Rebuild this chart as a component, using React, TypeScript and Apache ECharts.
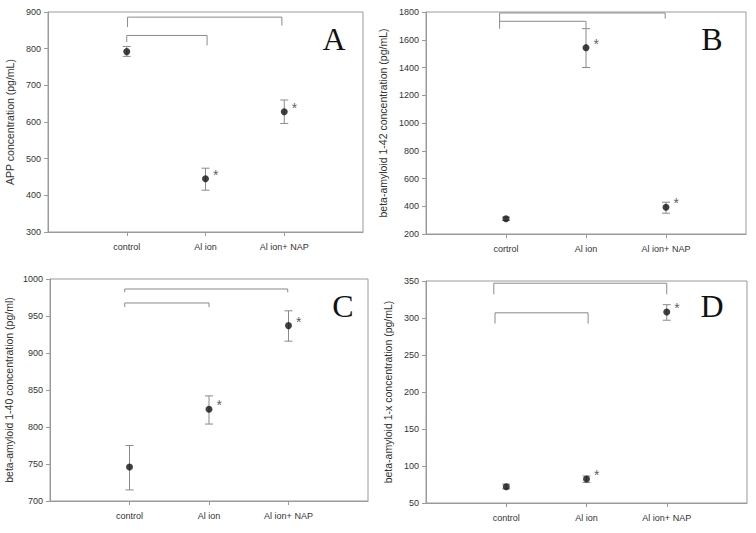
import React, { useEffect, useRef } from "react";
import * as echarts from "echarts";

const categories = ["control", "Al ion", "Al ion+ NAP"];
const categoriesB = ["cortrol", "Al ion", "Al ion+ NAP"];
const xPositions = [1, 2, 3];
const significant = [false, true, true];

// Panel A: APP
const appMean = [792, 445, 628];
const appLow = [779, 414, 596];
const appHigh = [806, 474, 660];
const appBracketOuter = [[1.01, 859], [1.01, 886], [2.97, 886], [2.97, 863]];
const appBracketInner = [[1.0, 818], [1.0, 836], [2.02, 836], [2.02, 809]];

// Panel B: beta-amyloid 1-42
const ab42Mean = [310, 1543, 393];
const ab42Low = [298, 1400, 350];
const ab42High = [322, 1680, 429];
const ab42BracketOuter = [[0.92, 1680], [0.92, 1793], [2.99, 1793], [2.99, 1752]];
const ab42BracketInner = [[0.92, 1733], [2.0, 1733], [2.0, 1685]];

// Panel C: beta-amyloid 1-40
const ab40Mean = [746, 824, 937];
const ab40Low = [715, 804, 916];
const ab40High = [775, 842, 957];
const ab40BracketOuter = [[0.94, 982], [0.94, 986.5], [2.99, 986.5], [2.99, 982]];
const ab40BracketInner = [[0.94, 962], [0.94, 967.6], [2.0, 967.6], [2.0, 962]];

// Panel D: beta-amyloid 1-x
const ab1xMean = [72, 82.4, 308];
const ab1xLow = [69, 77.8, 297];
const ab1xHigh = [75.5, 86.5, 318];
const ab1xBracketOuter = [[0.845, 332], [0.845, 347], [3.0, 347], [3.0, 332]];
const ab1xBracketInner = [[0.86, 292.5], [0.86, 307], [2.02, 307], [2.02, 292.5]];

const panels = [
  {
    letter: "A", cats: categories, mean: appMean, low: appLow, high: appHigh,
    brackets: [appBracketOuter, appBracketInner],
    name: "APP concentration (pg/mL)", min: 300, max: 900, interval: 100,
    grid: { left: 48, top: 12, width: 315, height: 220 }, nameGap: 33,
    letterPos: [334, 39],
  },
  {
    letter: "B", cats: categoriesB, mean: ab42Mean, low: ab42Low, high: ab42High,
    brackets: [ab42BracketOuter, ab42BracketInner],
    name: "beta-amyloid 1-42 concentration (pg/mL)", min: 200, max: 1800, interval: 200,
    grid: { left: 426, top: 12, width: 320, height: 222 }, nameGap: 38,
    letterPos: [712, 39],
  },
  {
    letter: "C", cats: categories, mean: ab40Mean, low: ab40Low, high: ab40High,
    brackets: [ab40BracketOuter, ab40BracketInner],
    name: "beta-amyloid 1-40 concentration (pg/ml)", min: 700, max: 1000, interval: 50,
    grid: { left: 50, top: 279, width: 318, height: 222 }, nameGap: 36,
    letterPos: [343, 306],
  },
  {
    letter: "D", cats: categories, mean: ab1xMean, low: ab1xLow, high: ab1xHigh,
    brackets: [ab1xBracketOuter, ab1xBracketInner],
    name: "beta-amyloid 1-x concentration (pg/mL)", min: 50, max: 350, interval: 50,
    grid: { left: 426, top: 281, width: 321, height: 222 }, nameGap: 33,
    letterPos: [712, 306],
  },
];

const FONT = "'Liberation Sans', Arial, sans-serif";
const AXIS_COLOR = "#9a9a9a";
const TEXT_COLOR = "#333";

export default function App() {
  const ref = useRef<HTMLDivElement>(null);
  useEffect(() => {
    if (!ref.current) return;
    const chart = echarts.init(ref.current, undefined, { renderer: "svg" });
    const grids: any[] = [];
    const xAxes: any[] = [];
    const yAxes: any[] = [];
    const series: any[] = [];
    const graphics: any[] = [];
    panels.forEach((p, i) => {
      grids.push({ ...p.grid, show: true, borderColor: AXIS_COLOR, borderWidth: 1, containLabel: false });
      xAxes.push({
        gridIndex: i, type: "value", min: 0, max: 4, interval: 1,
        splitLine: { show: false },
        axisLine: { show: true, lineStyle: { color: AXIS_COLOR } },
        axisTick: { show: true, length: 4, customValues: xPositions, lineStyle: { color: AXIS_COLOR } },
        axisLabel: {
          show: true, customValues: xPositions, margin: 10, fontSize: 9, color: TEXT_COLOR, fontFamily: FONT,
          formatter: (v: number) => p.cats[Math.round(v) - 1] ?? "",
        },
      });
      yAxes.push({
        gridIndex: i, type: "value", min: p.min, max: p.max, interval: p.interval,
        splitLine: { show: false },
        axisLine: { show: true, lineStyle: { color: AXIS_COLOR } },
        axisTick: { show: true, length: 4, lineStyle: { color: AXIS_COLOR } },
        axisLabel: {
          fontSize: 9, color: TEXT_COLOR, fontFamily: FONT, margin: 7,
          formatter: (v: number) => String(v),
        },
        name: p.name, nameLocation: "middle", nameRotate: 90, nameGap: p.nameGap,
        nameTextStyle: { fontSize: 10.5, color: TEXT_COLOR, fontFamily: FONT },
      });
      // error bars
      series.push({
        type: "custom", xAxisIndex: i, yAxisIndex: i, z: 2,
        data: xPositions.map((x, k) => [x, p.mean[k], p.low[k], p.high[k]]),
        renderItem: (params: any, api: any) => {
          const x = api.value(0);
          const lo = api.coord([x, api.value(2)]);
          const hi = api.coord([x, api.value(3)]);
          const style = { stroke: "#8a8a8a", lineWidth: 1 };
          const cap = 4;
          return {
            type: "group",
            children: [
              { type: "line", shape: { x1: lo[0], y1: lo[1], x2: hi[0], y2: hi[1] }, style },
              { type: "line", shape: { x1: lo[0] - cap, y1: lo[1], x2: lo[0] + cap, y2: lo[1] }, style },
              { type: "line", shape: { x1: hi[0] - cap, y1: hi[1], x2: hi[0] + cap, y2: hi[1] }, style },
            ],
          };
        },
      });
      // markers with asterisks
      series.push({
        type: "scatter", xAxisIndex: i, yAxisIndex: i, z: 3,
        symbol: "circle", symbolSize: 7,
        itemStyle: { color: "#111" },
        data: xPositions.map((x, k) => ({
          value: [x, p.mean[k]],
          label: {
            show: significant[k], formatter: "*", position: "right", distance: 4,
            offset: [0, -4], fontSize: 14, color: TEXT_COLOR, fontFamily: FONT,
          },
        })),
      });
      // brackets
      p.brackets.forEach((b) => {
        series.push({
          type: "line", xAxisIndex: i, yAxisIndex: i, z: 1,
          data: b, symbol: "none", silent: true,
          lineStyle: { color: "#8a8a8a", width: 1 },
        });
      });
      graphics.push({
        type: "text", x: p.letterPos[0], y: p.letterPos[1],
        style: {
          text: p.letter, font: "32px 'Liberation Serif', 'Times New Roman', serif",
          fill: "#111", textAlign: "center", textVerticalAlign: "middle", verticalAlign: "middle",
        },
      });
    });
    chart.setOption({
      animation: false,
      backgroundColor: "#ffffff",
      grid: grids,
      xAxis: xAxes,
      yAxis: yAxes,
      series,
      graphic: graphics,
    });
    return () => chart.dispose();
  }, []);
  return <div ref={ref} style={{ position: "fixed", left: 0, top: 0, width: 756, height: 533 }} />;
}
